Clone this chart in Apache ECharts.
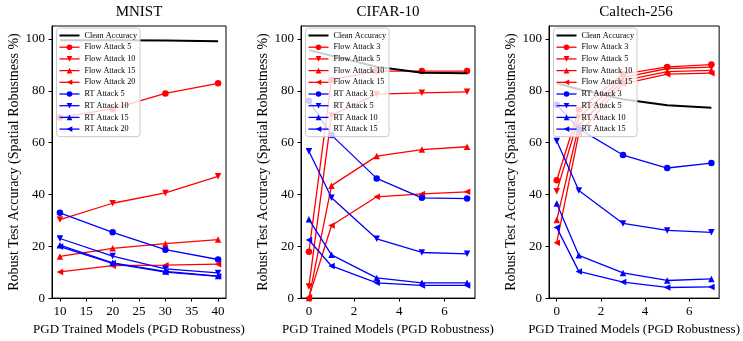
<!DOCTYPE html>
<html>
<head>
<meta charset="utf-8">
<script src="https://cdn.jsdelivr.net/npm/echarts@6/dist/echarts.min.js"></script>
<style>html,body{margin:0;padding:0;background:#fff}#c{width:743px;height:341px}</style>
</head>
<body>
<div id="c"></div>
<script>
// ---------- DATA ----------
const panelTitles = ['MNIST', 'CIFAR-10', 'Caltech-256'];
const yTicks = [0, 20, 40, 60, 80, 100];
const mnistXTicks = [10, 15, 20, 25, 30, 35, 40];
const pgdXTicks = [0, 2, 4, 6];

const mnistX = [10, 20, 30, 40];
const mnistNames = ['Clean Accuracy', 'Flow Attack 5', 'Flow Attack 10', 'Flow Attack 15', 'Flow Attack 20',
                    'RT Attack 5', 'RT Attack 10', 'RT Attack 15', 'RT Attack 20'];
const mnistClean  = [99.5, 99.5, 99.4, 99.1];
const mnistFlow5  = [69.7, 73.0, 79.0, 82.9];
const mnistFlow10 = [30.3, 36.6, 40.6, 47.0];
const mnistFlow15 = [16.1, 19.2, 21.0, 22.6];
const mnistFlow20 = [10.1, 12.5, 12.7, 13.1];
const mnistRT5    = [32.9, 25.4, 18.7, 14.9];
const mnistRT10   = [23.0, 16.2, 11.3, 9.7];
const mnistRT15   = [20.4, 13.6, 10.3, 8.5];
const mnistRT20   = [19.9, 13.4, 10.0, 8.4];

const cifarX = [0, 1, 3, 5, 7];
const cifarNames = ['Clean Accuracy', 'Flow Attack 3', 'Flow Attack 5', 'Flow Attack 10', 'Flow Attack 15',
                    'RT Attack 3', 'RT Attack 5', 'RT Attack 10', 'RT Attack 15'];
const cifarClean  = [95.7, 93.5, 89.3, 87.0, 86.8];
const cifarFlow3  = [17.9, 84.3, 87.6, 87.6, 87.6];
const cifarFlow5  = [4.5, 70.5, 78.7, 79.2, 79.6];
const cifarFlow10 = [0.0, 43.4, 54.8, 57.3, 58.4];
const cifarFlow15 = [0.3, 28.0, 39.1, 40.2, 41.0];
const cifarRT3    = [76.2, 62.9, 46.2, 38.7, 38.4];
const cifarRT5    = [56.7, 38.7, 22.9, 17.6, 17.1];
const cifarRT10   = [30.4, 16.7, 7.8, 5.9, 5.9];
const cifarRT15   = [22.4, 12.4, 5.9, 4.9, 4.9];

const calX = [0, 1, 3, 5, 7];
const calNames = cifarNames;
const calClean  = [82.9, 80.6, 76.7, 74.4, 73.5];
const calFlow3  = [45.5, 72.8, 86.4, 89.2, 90.1];
const calFlow5  = [41.2, 69.7, 85.1, 88.6, 89.1];
const calFlow10 = [30.1, 66.6, 83.9, 87.4, 87.9];
const calFlow15 = [21.4, 63.5, 82.7, 86.4, 86.8];
const calRT3    = [74.6, 65.3, 55.2, 50.2, 52.1];
const calRT5    = [60.6, 41.5, 28.8, 26.1, 25.4];
const calRT10   = [36.5, 16.5, 9.7, 6.8, 7.4];
const calRT15   = [27.2, 10.3, 6.2, 4.1, 4.3];

// ---------- CHART ----------
const FONT = 'Liberation Serif';
const panels = [
  { x: mnistX, names: mnistNames, ys: [mnistClean, mnistFlow5, mnistFlow10, mnistFlow15, mnistFlow20, mnistRT5, mnistRT10, mnistRT15, mnistRT20],
    left: 52, xmin: 8.5, xmax: 41.5, xticks: mnistXTicks },
  { x: cifarX, names: cifarNames, ys: [cifarClean, cifarFlow3, cifarFlow5, cifarFlow10, cifarFlow15, cifarRT3, cifarRT5, cifarRT10, cifarRT15],
    left: 301, xmin: -0.35, xmax: 7.35, xticks: pgdXTicks },
  { x: calX, names: calNames, ys: [calClean, calFlow3, calFlow5, calFlow10, calFlow15, calRT3, calRT5, calRT10, calRT15],
    left: 549, xmin: -0.35, xmax: 7.35, xticks: pgdXTicks }
];
const W = 174, TOP = 26, H = 284;
const markers = [null, ['circle', 0], ['triangle', 180], ['triangle', 0], ['triangle', 90],
                 ['circle', 0], ['triangle', 180], ['triangle', 0], ['triangle', 90]];

const grid = [], xAxis = [], yAxis = [], series = [], legend = [], title = [];
panels.forEach((p, i) => {
  grid.push({ left: p.left, top: TOP, width: W, height: H, show: true, borderColor: '#000', borderWidth: 1, backgroundColor: 'transparent' });
  title.push({ text: panelTitles[i], left: p.left + W / 2, top: 5, textAlign: 'center', padding: 0,
    textStyle: { fontFamily: FONT, fontSize: 15, fontWeight: 'normal', color: '#000' } });
  const axisCommon = {
    gridIndex: i, type: 'value', nameLocation: 'middle',
    nameTextStyle: { fontFamily: FONT, fontSize: 13, color: '#000' },
    axisLine: { show: true, onZero: false, lineStyle: { color: '#000', width: 1 } },
    axisTick: { show: true, inside: false, length: 3.5, lineStyle: { color: '#000', width: 1 } },
    axisLabel: { fontFamily: FONT, fontSize: 13, color: '#000' },
    splitLine: { show: false }
  };
  xAxis.push(Object.assign({}, axisCommon, {
    min: p.xmin, max: p.xmax, name: 'PGD Trained Models (PGD Robustness)', nameGap: 22,
    axisTick: Object.assign({}, axisCommon.axisTick, { customValues: p.xticks, interval: 0 }),
    axisLabel: Object.assign({}, axisCommon.axisLabel, { customValues: p.xticks, margin: 7, interval: 0, hideOverlap: false })
  }));
  yAxis.push(Object.assign({}, axisCommon, {
    min: 0, max: 105, name: 'Robust Test Accuracy (Spatial Robustness %)', nameGap: 31, nameRotate: 90,
    nameTextStyle: { fontFamily: FONT, fontSize: 14, color: '#000' },
    axisTick: Object.assign({}, axisCommon.axisTick, { customValues: yTicks }),
    axisLabel: Object.assign({}, axisCommon.axisLabel, { customValues: yTicks, margin: 7 })
  }));
  const legendData = [];
  p.names.forEach((nm, k) => {
    const sname = i + '|' + nm;
    const color = k === 0 ? '#000000' : (k <= 4 ? '#ff0000' : '#0000ff');
    const s = {
      type: 'line', name: sname, xAxisIndex: i, yAxisIndex: i,
      data: p.x.map((xv, j) => [xv, p.ys[k][j]]),
      lineStyle: { color: color, width: k === 0 ? 2 : 1.3 },
      itemStyle: { color: color },
      animation: false, z: k === 0 ? 3 : 2
    };
    if (k === 0) { s.symbol = 'none'; legendData.push({ name: sname, itemStyle: { opacity: 0 } }); }
    else { s.symbol = markers[k][0]; s.symbolRotate = markers[k][1]; s.symbolSize = 6.5; s.showSymbol = true; legendData.push({ name: sname }); }
    series.push(s);
  });
  legend.push({
    data: legendData, orient: 'vertical', left: p.left + 4.5, top: 28,
    itemWidth: 20, itemHeight: 7, itemGap: 2.7, padding: [3, 3, 3, 2],
    backgroundColor: 'rgba(255,255,255,0.8)', borderColor: '#cccccc', borderWidth: 1, borderRadius: 3,
    textStyle: { fontFamily: FONT, fontSize: 8.2, lineHeight: 9, color: '#000' },
    lineStyle: { width: 'inherit' },
    selectedMode: false,
    formatter: n => n.split('|')[1]
  });
});

const chart = echarts.init(document.getElementById('c'), null, { renderer: 'canvas' });
chart.setOption({ animation: false, backgroundColor: '#fff', title, grid, xAxis, yAxis, series, legend, textStyle: { fontFamily: FONT } });
</script>
</body>
</html>
